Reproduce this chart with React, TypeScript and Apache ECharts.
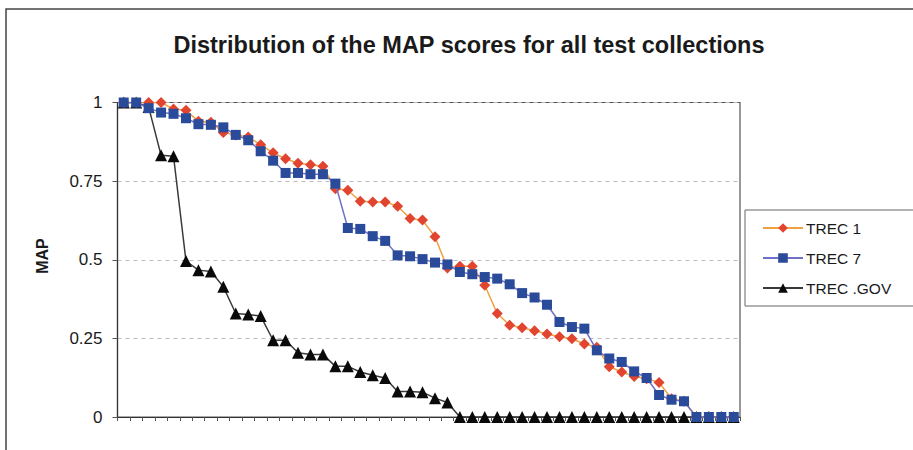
import React, { useEffect, useRef } from "react";
import * as echarts from "echarts";

const categories: string[] = Array.from({ length: 50 }, (_, i) => String(i + 1));

const trec1: number[] = [
  1.0, 1.0, 1.0, 1.0, 0.979, 0.975, 0.94, 0.937, 0.905, 0.897,
  0.89, 0.866, 0.84, 0.821, 0.807, 0.802, 0.797, 0.726, 0.721, 0.686,
  0.684, 0.684, 0.67, 0.631, 0.626, 0.573, 0.474, 0.479, 0.479, 0.419,
  0.329, 0.292, 0.284, 0.274, 0.264, 0.255, 0.249, 0.232, 0.222, 0.16,
  0.143, 0.129, 0.122, 0.11, 0.058, 0.05, 0, 0, 0, 0,
];

const trec7: number[] = [
  1.0, 1.0, 0.982, 0.968, 0.964, 0.95, 0.931, 0.929, 0.921, 0.897,
  0.88, 0.845, 0.815, 0.776, 0.776, 0.772, 0.772, 0.742, 0.601, 0.598,
  0.575, 0.56, 0.514, 0.511, 0.502, 0.491, 0.485, 0.461, 0.454, 0.445,
  0.44, 0.422, 0.394, 0.38, 0.357, 0.302, 0.286, 0.281, 0.212, 0.186,
  0.175, 0.145, 0.124, 0.07, 0.055, 0.05, 0, 0, 0, 0,
];

const trecGov: number[] = [
  1.0, 1.0, 0.986, 0.832, 0.829, 0.496, 0.467, 0.463, 0.414, 0.329,
  0.326, 0.321, 0.244, 0.244, 0.204, 0.199, 0.199, 0.161, 0.161, 0.143,
  0.133, 0.124, 0.081, 0.081, 0.079, 0.06, 0.046, 0, 0, 0,
  0, 0, 0, 0, 0, 0, 0, 0, 0, 0,
  0, 0, 0, 0, 0, 0, 0, 0, 0, 0,
];

const seriesNames = ["TREC 1", "TREC 7", "TREC .GOV"];
const titleText = "Distribution of the MAP scores for all test collections";
const yAxisName = "MAP";

const FONT = "'Liberation Sans', Arial, sans-serif";

export default function App() {
  const ref = useRef<HTMLDivElement>(null);
  useEffect(() => {
    document.body.style.margin = "0";
    if (!ref.current) return;
    const chart = echarts.init(ref.current, null, { renderer: "svg" });
    chart.setOption({
      animation: false,
      backgroundColor: "#ffffff",
      title: {
        text: titleText,
        left: 464,
        top: 28,
        textAlign: "center",
        textStyle: { fontFamily: FONT, fontSize: 23.5, fontWeight: "bold", color: "#1a1a1a" },
      },
      graphic: [
        {
          type: "rect",
          shape: { x: 6, y: 9, width: 930, height: 470 },
          style: { fill: "none", stroke: "#444", lineWidth: 1.5 },
          z: -1,
        },
        {
          type: "rect",
          shape: { x: 117.5, y: 102.5, width: 622.5, height: 314.5 },
          style: { fill: "none", stroke: "#555", lineWidth: 1.2 },
          z: 0,
        },
        {
          type: "text",
          x: 42,
          y: 256,
          rotation: Math.PI / 2,
          style: {
            text: yAxisName,
            fontFamily: FONT,
            fontSize: 16,
            fontWeight: "bold",
            fill: "#1a1a1a",
            align: "center",
            verticalAlign: "middle",
          },
        },
      ],
      legend: {
        orient: "vertical",
        left: 745,
        top: 210,
        padding: [10, 40, 10, 17],
        itemWidth: 40,
        itemHeight: 12,
        itemGap: 14,
        borderColor: "#666",
        borderWidth: 1,
        data: seriesNames,
        textStyle: { fontFamily: FONT, fontSize: 15.5, color: "#1a1a1a", padding: [0, 0, 0, -2] },
      },
      grid: { left: 117.5, right: 173, top: 102.5, bottom: 33, containLabel: false },
      xAxis: {
        type: "category",
        data: categories,
        boundaryGap: true,
        axisLine: { lineStyle: { color: "#333", width: 1.2 } },
        axisTick: { show: true, interval: 0, length: 4, lineStyle: { color: "#555" } },
        axisLabel: { show: false },
        splitLine: { show: false },
      },
      yAxis: {
        type: "value",
        min: 0,
        max: 1,
        interval: 0.25,
        axisLine: { show: true, lineStyle: { color: "#333", width: 1.2 } },
        axisTick: { show: true, length: 5, lineStyle: { color: "#555" } },
        axisLabel: {
          fontFamily: FONT,
          fontSize: 17,
          color: "#1a1a1a",
          margin: 15,
        },
        splitLine: { show: true, lineStyle: { color: "#bbb", type: [4, 4], width: 1 } },
      },
      series: [
        {
          name: seriesNames[2],
          type: "line",
          data: trecGov,
          symbol: "triangle",
          symbolSize: 12,
          showSymbol: true,
          showAllSymbol: true,
          z: 2,
          lineStyle: { color: "#3a3a3a", width: 1.5 },
          itemStyle: { color: "#0a0a0a" },
        },
        {
          name: seriesNames[0],
          type: "line",
          data: trec1,
          symbol: "diamond",
          symbolSize: 11,
          showSymbol: true,
          showAllSymbol: true,
          z: 3,
          lineStyle: { color: "#f0a040", width: 1.5 },
          itemStyle: { color: "#e2452f" },
        },
        {
          name: seriesNames[1],
          type: "line",
          data: trec7,
          symbol: "rect",
          symbolSize: 10,
          showSymbol: true,
          showAllSymbol: true,
          z: 4,
          lineStyle: { color: "#7070c8", width: 1.5 },
          itemStyle: { color: "#2a4a9a" },
        },
      ],
    });
    return () => chart.dispose();
  }, []);
  return <div ref={ref} style={{ width: 913, height: 450 }} />;
}
